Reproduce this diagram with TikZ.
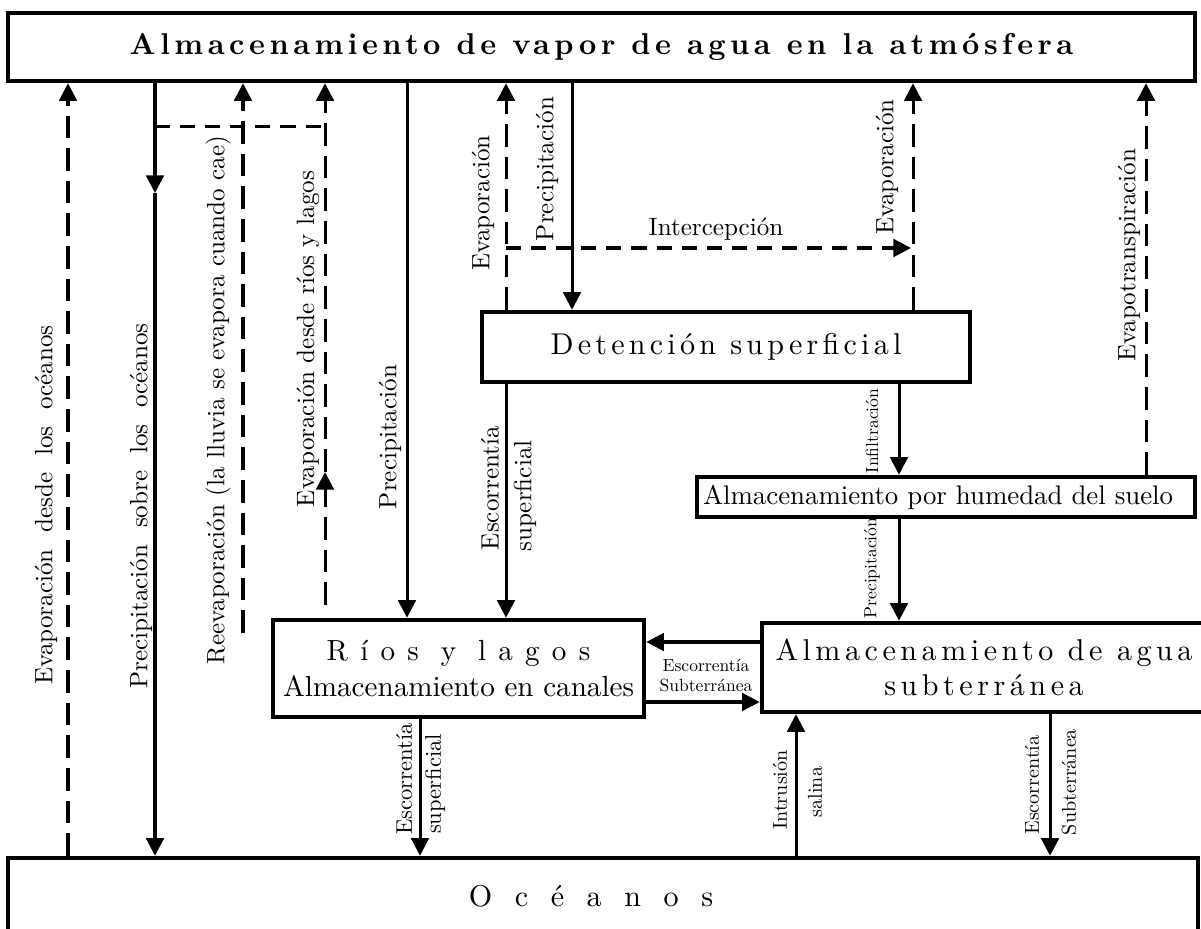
\documentclass[tikz,border=0pt]{standalone}
\usepackage{fontspec}
\setmainfont{lmroman10}[Extension=.otf, UprightFont=*-regular, BoldFont=*-bold,
  ItalicFont=*-italic, BoldItalicFont=*-bolditalic]
\usetikzlibrary{arrows.meta}

\newdimen\unidad \unidad=0.014cm

\tikzset{
  caja/.style={draw, line width=1.8pt, inner sep=0pt, align=center},
  flujo/.style={line width=1.2pt, -{Triangle[width=7pt,length=7pt]}},
  vdash/.style={flujo, dash pattern=on 9pt off 4pt},
  hdash/.style={line width=1.2pt, dash pattern=on 6pt off 4pt},
  hflecha/.style={hdash, -{Triangle[width=7pt,length=7pt]}},
  etq/.style={rotate=90, inner sep=0pt},
}

\begin{document}
\begin{tikzpicture}[x=0.014cm, y=-0.014cm]
  \useasboundingbox (0,0) rectangle (1201,929);
  \clip (0,0) rectangle (1201,929);

  % cajas
  \node[caja, minimum width=1187\unidad, minimum height=68\unidad] (atm) at (601.5,47)
    {\large\bfseries\addfontfeature{LetterSpace=15}Almacenamiento de vapor de agua en la atmósfera};
  \node[caja, minimum width=1190\unidad, minimum height=77\unidad] (oce) at (603,896.5)
    {\large\addfontfeature{LetterSpace=75}Océanos\kern24\unidad};
  \node[caja, minimum width=488\unidad, minimum height=70\unidad] (det) at (726,347)
    {\large\addfontfeature{LetterSpace=14}Detención superficial};
  \node[caja, minimum width=498\unidad, minimum height=40\unidad, align=left,
    text width=486\unidad, inner xsep=6\unidad, font=\fontsize{10.7pt}{13pt}\selectfont] (sue) at (946,497)
    {Almacenamiento por humedad del suelo};
  \node[caja, minimum width=371\unidad, minimum height=97\unidad,
    font=\fontsize{11.6pt}{14pt}\selectfont] (rio) at (458.5,668.5)
    {{\addfontfeature{LetterSpace=42}Ríos y lagos}\\Almacenamiento en canales};
  \node[caja, minimum width=444\unidad, minimum height=89\unidad, font=\large] (agu) at (984,667.5)
    {\addfontfeature{LetterSpace=15}Almacenamiento de agua\\\addfontfeature{LetterSpace=15}subterránea};

  % columnas
  \foreach \n/\x in {eo/68, po/155, re/243, er/325, p1/407, e1/506, p2/572,
    e2/913, et/1146, in/899, es/420, is/796, ss/1050} {
    \coordinate (x\n) at (\x,0);
  }
  \coordinate (yh1) at (0,642);
  \coordinate (yh2) at (0,702);

  % lado de los oceanos
  \draw[vdash] (oce.north -| xeo) -- (atm.south -| xeo);
  \coordinate (m1) at (155,193);
  \draw[flujo] (atm.south -| xpo) -- (m1);
  \draw[flujo] (m1) -- (oce.north -| xpo);
  \coordinate (b1) at (155,127);
  \coordinate (b2) at (325,127);
  \draw[hdash] (b1) -- (b2);
  \coordinate (r0) at (243,633);
  \draw[vdash] (r0) -- (atm.south -| xre);
  \coordinate (s0) at (325,605);
  \coordinate (s1) at (325,472);
  \draw[vdash] (s0) -- (s1);
  \draw[vdash] (s1) -- (atm.south -| xer);
  \draw[flujo] (atm.south -| xp1) -- (rio.north -| xp1);

  % deteccion superficial
  \draw[vdash] (det.north -| xe1) -- (atm.south -| xe1);
  \coordinate (i0) at (506,248);
  \coordinate (i1) at (911,248);
  \draw[hflecha] (i0) -- (i1);
  \draw[flujo] (atm.south -| xp2) -- (det.north -| xp2);
  \draw[vdash] (det.north -| xe2) -- (atm.south -| xe2);
  \draw[vdash] (sue.north -| xet) -- (atm.south -| xet);
  \draw[flujo] (det.south -| xe1) -- (rio.north -| xe1);
  \draw[flujo] (det.south -| xin) -- (sue.north -| xin);
  \draw[flujo] (sue.south -| xin) -- (agu.north -| xin);

  % subterraneo
  \draw[flujo] (agu.west |- yh1) -- (rio.east |- yh1);
  \draw[flujo] (rio.east |- yh2) -- (agu.west |- yh2);
  \draw[flujo] (rio.south -| xes) -- (oce.north -| xes);
  \draw[flujo] (oce.north -| xis) -- (agu.south -| xis);
  \draw[flujo] (agu.south -| xss) -- (oce.north -| xss);

  % etiquetas
  \foreach \n/\x/\y/\t in {evo/46/505/Evaporación\ \ desde\ \ los\ \ océanos,
    poc/141/506/Precipitación\ \ sobre\ \ los\ \ océanos,
    ree/218/400/Reevaporación (la lluvia se evapora cuando cae),
    erl/308/339/Evaporación\ desde\ ríos\ y\ lagos,
    pr1/390/437/Precipitación, ev1/483/203/Evaporación,
    pr2/547/169/Precipitación, ev2/887/167/Evaporación,
    evt/1129/255/Evapotranspiración,
    es1/490/488/Escorrentía, su1/525/496/superficial} {
    \node[etq] (l\n) at (\x,\y) {\t};
  }
  \node[inner sep=0pt] (lint) at (716,229) {Intercepción};
  \node[etq, font=\scriptsize] (linf) at (872,431) {Infiltración};
  \node[etq, font=\scriptsize] (lpr3) at (872,568) {Precipitación};
  \node[inner sep=0pt, font=\scriptsize, align=center] (lesu) at (706,676) {Escorrentía\\Subterránea};
  \node[etq, font=\small] (les2) at (404,779) {Escorrentía};
  \node[etq, font=\small] (lsu2) at (435,784) {superficial};
  \node[etq, font=\footnotesize] (lintr) at (780,790) {Intrusión};
  \node[etq, font=\footnotesize] (lsal) at (815,792) {salina};
  \node[etq, font=\footnotesize] (les3) at (1032,785) {Escorrentía};
  \node[etq, font=\footnotesize] (lsub) at (1069,782) {Subterránea};
\end{tikzpicture}
\end{document}
